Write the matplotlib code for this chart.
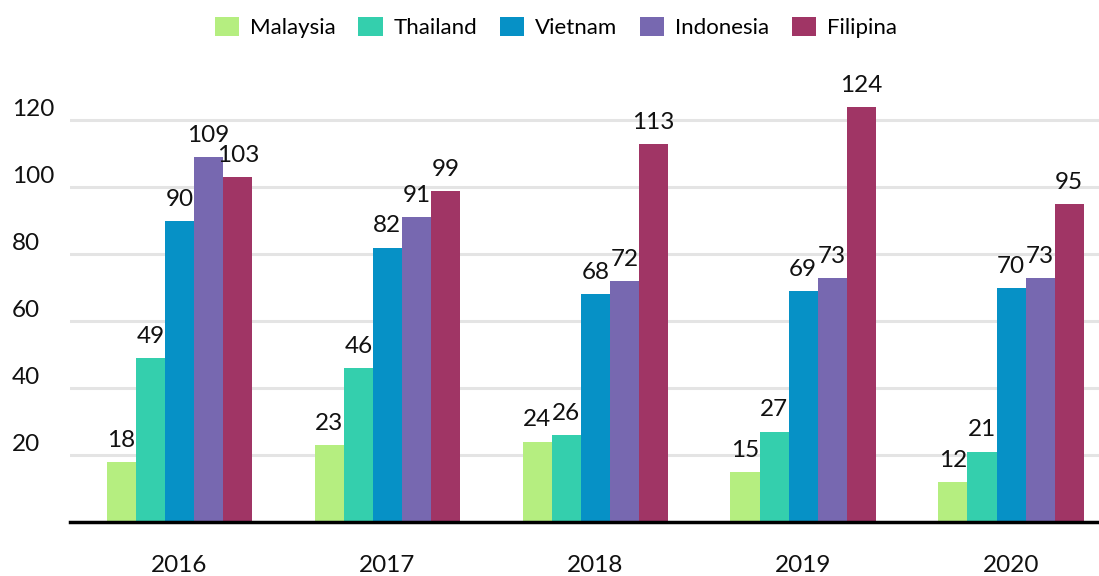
import matplotlib.pyplot as plt
import numpy as np

plt.rcParams['font.family'] = ['Lato', 'DejaVu Sans']

years = ['2016', '2017', '2018', '2019', '2020']
countries = ['Malaysia', 'Thailand', 'Vietnam', 'Indonesia', 'Filipina']
malaysia = [18, 23, 24, 15, 12]
thailand = [49, 46, 26, 27, 21]
vietnam = [90, 82, 68, 69, 70]
indonesia = [109, 91, 72, 73, 73]
filipina = [103, 99, 113, 124, 95]
series = [malaysia, thailand, vietnam, indonesia, filipina]
colors = ['#b5ee80', '#34cfad', '#0691c6', '#7768b0', '#a03565']

fig = plt.figure(figsize=(10.99, 5.76), dpi=100)
ax = fig.add_axes([0.0637, 0.094, 0.9363, 0.784])

index = np.arange(len(years))
bar_width = 0.14
for i, (vals, name, c) in enumerate(zip(series, countries, colors)):
    pos = index + (i - 2) * bar_width
    bars = ax.bar(pos, vals, bar_width, color=c, label=name, zorder=2)
    for bar, v in zip(bars, vals):
        ax.annotate(str(v), (bar.get_x() + bar.get_width() / 2, v),
                    xytext=(0, 8), textcoords='offset points',
                    ha='center', va='bottom', fontsize=17.5, color='#111111')

ax.set_xlim(-0.527, 4.423)
ax.set_ylim(0, 135)
ax.set_yticks([20, 40, 60, 80, 100, 120])
ax.set_xticks(index)
ax.set_xticklabels(years)
ax.grid(axis='y', color='#e4e4e4', linewidth=2.2, zorder=0)
ax.set_axisbelow(True)
for s in ['top', 'right', 'left']:
    ax.spines[s].set_visible(False)
ax.spines['bottom'].set_linewidth(2.5)
ax.spines['bottom'].set_color('black')
ax.tick_params(axis='both', length=0, labelsize=17.5, labelcolor='#111111')
ax.tick_params(axis='x', pad=24)
ax.tick_params(axis='y', pad=42)
for lbl in ax.get_yticklabels():
    lbl.set_ha('left')
    lbl.set_va('bottom')

fig.legend(loc='upper center', bbox_to_anchor=(0.506, 1.005), ncol=5, frameon=False,
           fontsize=16, handlelength=1.1, handleheight=0.9, columnspacing=1.0,
           handletextpad=0.5)

fig.savefig('out.png', dpi=100)
